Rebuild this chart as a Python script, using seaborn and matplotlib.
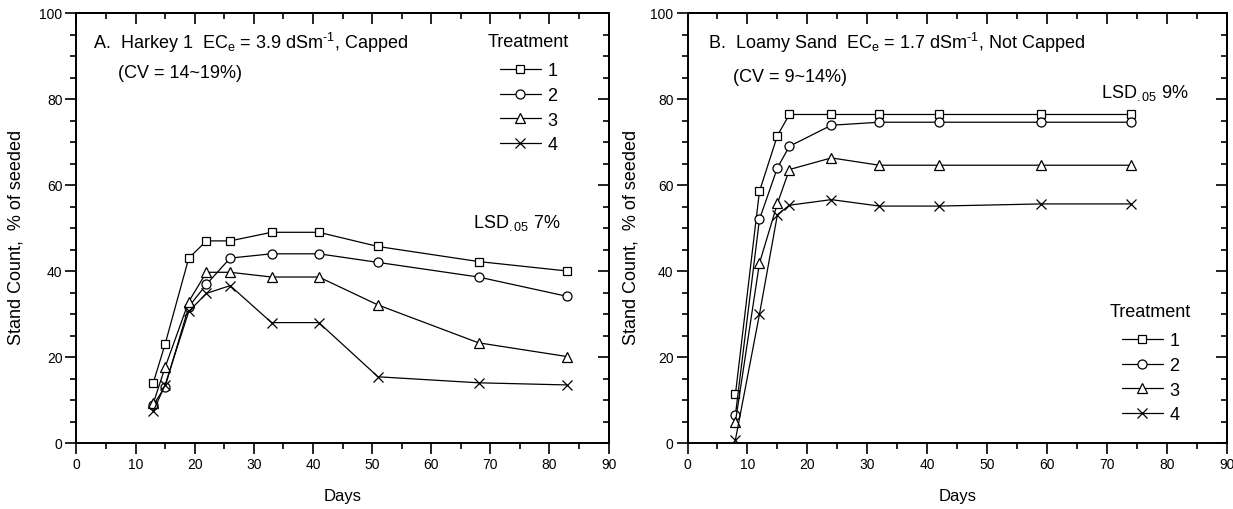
import numpy as np
import pandas as pd
import matplotlib
matplotlib.use("Agg")
import matplotlib.pyplot as plt
import seaborn as sns
from matplotlib.ticker import MultipleLocator

sns.set_theme(style="white")
plt.rcParams['font.family'] = ['Liberation Sans', 'DejaVu Sans']
plt.rcParams['mathtext.fontset'] = 'custom'
plt.rcParams['mathtext.rm'] = 'Liberation Sans'
plt.rcParams['mathtext.it'] = 'Liberation Sans:italic'
plt.rcParams['mathtext.bf'] = 'Liberation Sans:bold'
plt.rcParams['text.color'] = 'black'
plt.rcParams['axes.labelcolor'] = 'black'
plt.rcParams['xtick.color'] = 'black'
plt.rcParams['ytick.color'] = 'black'

# ---- Data: Panel A (Harkey 1, capped) ----
days_a = [13, 15, 19, 22, 26, 33, 41, 51, 68, 83]
a_t1 = [14.0, 23.0, 43.0, 47.0, 47.0, 49.0, 49.0, 45.7, 42.2, 40.0]
a_t2 = [8.8, 13.1, 31.7, 36.9, 43.0, 44.0, 44.0, 42.0, 38.6, 34.1]
a_t3 = [9.2, 17.6, 32.9, 39.7, 39.7, 38.6, 38.6, 32.1, 23.3, 20.1]
a_t4 = [7.4, 13.5, 30.6, 34.8, 36.6, 28.0, 28.0, 15.4, 14.0, 13.5]

# ---- Data: Panel B (Loamy sand, not capped) ----
days_b = [8, 12, 15, 17, 24, 32, 42, 59, 74]
b_t1 = [11.4, 58.5, 71.5, 76.4, 76.4, 76.4, 76.4, 76.4, 76.4]
b_t2 = [6.6, 52.0, 64.0, 69.0, 73.9, 74.6, 74.6, 74.6, 74.6]
b_t3 = [5.0, 41.8, 55.7, 63.6, 66.3, 64.6, 64.6, 64.6, 64.6]
b_t4 = [0.8, 29.9, 53.1, 55.3, 56.6, 55.1, 55.1, 55.6, 55.6]

treatments = ['1', '2', '3', '4']
markers = {'1': 's', '2': 'o', '3': '^', '4': 'x'}


def long_df(days, series):
    rows = []
    for t, vals in zip(treatments, series):
        for d, v in zip(days, vals):
            rows.append({'Days': d, 'Value': v, 'Treatment': t})
    return pd.DataFrame(rows)


df_a = long_df(days_a, [a_t1, a_t2, a_t3, a_t4])
df_b = long_df(days_b, [b_t1, b_t2, b_t3, b_t4])

W, H = 1233, 510
fig = plt.figure(figsize=(W / 100, H / 100), dpi=100)
ax_a = fig.add_axes([76.4 / W, 1 - 444 / H, (608.6 - 76.4) / W, 430 / H])
ax_b = fig.add_axes([687.5 / W, 1 - 444 / H, (1227 - 687.5) / W, 430 / H])

fs_tick = 10
fs_lab = 12
fs_ylab = 13
fs_ann = 13


def draw(ax, df, ylab_x):
    for t in treatments:
        sub = df[df['Treatment'] == t]
        sns.lineplot(data=sub, x='Days', y='Value', marker=markers[t],
                     color='black', linewidth=0.9,
                     markersize=6.5 if t != '1' else 5.5,
                     markerfacecolor='white', markeredgecolor='black',
                     markeredgewidth=0.9, errorbar=None, ax=ax, sort=True,
                     label=t)
    for ln in ax.lines:
        ln.set_markeredgecolor('black')
        if ln.get_marker() != 'x':
            ln.set_markerfacecolor('white')
    ax.set_xlim(0, 90)
    ax.set_ylim(0, 100)
    ax.xaxis.set_major_locator(MultipleLocator(10))
    ax.xaxis.set_minor_locator(MultipleLocator(5))
    ax.yaxis.set_major_locator(MultipleLocator(20))
    ax.yaxis.set_minor_locator(MultipleLocator(5))
    ax.tick_params(which='major', direction='out', length=8, width=1.2,
                   labelsize=fs_tick, color='black', labelcolor='black',
                   bottom=True, left=True, pad=2)
    ax.tick_params(which='minor', direction='out', length=4, width=1.2,
                   bottom=True, left=True, color='black')
    for s in ax.spines.values():
        s.set_visible(True)
        s.set_color('black')
        s.set_linewidth(1.4)
    # inward ticks on top and right
    sx = ax.secondary_xaxis('top')
    sx.xaxis.set_major_locator(MultipleLocator(10))
    sx.xaxis.set_minor_locator(MultipleLocator(5))
    sx.tick_params(which='major', direction='in', length=8, width=1.2,
                   labeltop=False, color='black')
    sx.tick_params(which='minor', direction='in', length=4, width=1.2,
                   color='black')
    sy = ax.secondary_yaxis('right')
    sy.yaxis.set_major_locator(MultipleLocator(20))
    sy.yaxis.set_minor_locator(MultipleLocator(5))
    sy.tick_params(which='major', direction='in', length=8, width=1.2,
                   labelright=False, color='black')
    sy.tick_params(which='minor', direction='in', length=4, width=1.2,
                   color='black')
    for s in list(sx.spines.values()) + list(sy.spines.values()):
        s.set_linewidth(1.4)
        s.set_color('black')
    ax.set_xlabel('Days', fontsize=fs_lab, labelpad=12, color='black')
    ax.set_ylabel('Stand Count,  % of seeded', fontsize=fs_ylab,
                  color='black')
    ax.yaxis.set_label_coords(ylab_x, 0.48)
    ax.grid(False)


draw(ax_a, df_a, (25 - 76.4) / 532.2)
draw(ax_b, df_b, (640 - 687.5) / 539.5)


def px(x, y):
    return (x / W, 1 - y / H)


# Panel A texts
fig.text(*px(93, 43), r'A.  Harkey 1  EC$_\mathrm{e}$ = 3.9 dSm$^\text{-1}$, Capped',
         fontsize=fs_ann, va='center', ha='left', color='black')
fig.text(*px(118, 74), '(CV = 14~19%)', fontsize=fs_ann, va='center', ha='left',
         color='black')
fig.text(*px(473, 223), r'LSD$_\mathrm{.05}$ 7%', fontsize=fs_ann, va='center',
         ha='left', color='black')

# Panel B texts
fig.text(*px(708, 43), r'B.  Loamy Sand  EC$_\mathrm{e}$ = 1.7 dSm$^\text{-1}$, Not Capped',
         fontsize=fs_ann, va='center', ha='left', color='black')
fig.text(*px(733, 78), '(CV = 9~14%)', fontsize=fs_ann, va='center', ha='left',
         color='black')
fig.text(*px(1101, 93), r'LSD$_\mathrm{.05}$ 9%', fontsize=fs_ann, va='center',
         ha='left', color='black')


def add_legend(ax, x, y):
    leg = ax.legend(handles=ax.lines[:4], labels=treatments, title='Treatment',
                    loc='upper left', bbox_to_anchor=px(x, y),
                    bbox_transform=fig.transFigure, frameon=False,
                    fontsize=fs_ann, title_fontsize=fs_ann,
                    handlelength=2.3, handletextpad=0.35, labelspacing=0.42,
                    borderpad=0, borderaxespad=0)
    leg.get_title().set_color('black')
    for tx in leg.get_texts():
        tx.set_color('black')
    leg._legend_box.sep = 9
    return leg


add_legend(ax_a, 488, 34)
add_legend(ax_b, 1110, 304)

fig.savefig('out.png', dpi=100)
